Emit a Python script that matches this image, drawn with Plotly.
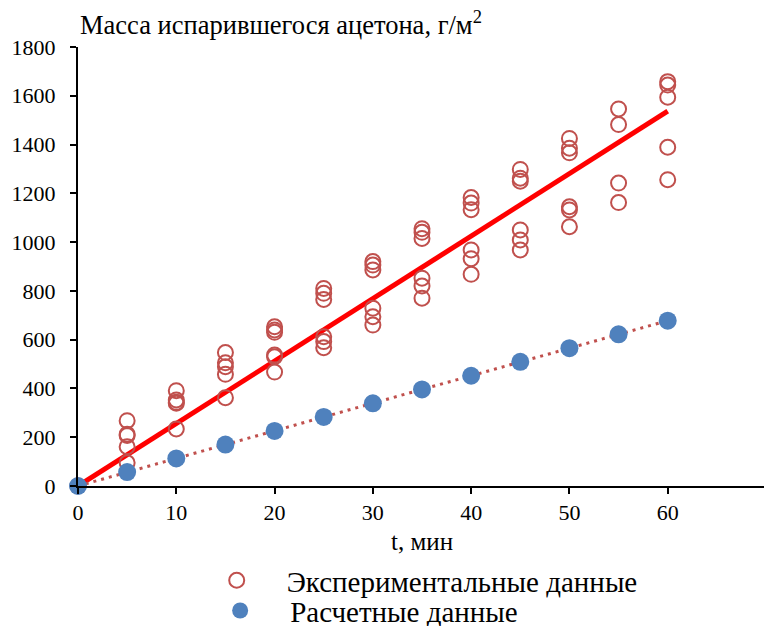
import plotly.graph_objects as go

# Experimental data: time (min) and evaporated mass (g/m2)
exp_t = ([0] +
         [5] * 5 + [10] * 5 + [15] * 5 + [20] * 6 + [25] * 6 + [30] * 6 +
         [35] * 6 + [40] * 6 + [45] * 6 + [50] * 6 + [55] * 4 + [60] * 5)
exp_m = ([0] +
         [268, 212, 207, 161, 95] +
         [391, 353, 343, 339, 234] +
         [547, 505, 489, 458, 362] +
         [653, 640, 630, 537, 530, 467] +
         [810, 790, 765, 612, 592, 567] +
         [920, 906, 886, 729, 694, 660] +
         [1055, 1040, 1015, 852, 820, 770] +
         [1183, 1160, 1133, 968, 932, 868] +
         [1298, 1262, 1250, 1050, 1009, 968] +
         [1425, 1385, 1366, 1145, 1132, 1063] +
         [1546, 1482, 1242, 1162] +
         [1658, 1644, 1594, 1389, 1256])

# Calculated data
calc_t = [0, 5, 10, 15, 20, 25, 30, 35, 40, 45, 50, 55, 60]
calc_m = [0, 57, 113, 170, 226, 283, 339, 396, 452, 509, 565, 622, 678]

# Trend line for experimental data
trend_t = [0, 60]
trend_m = [0, 1537]

x_ticks = [0, 10, 20, 30, 40, 50, 60, 70]
y_ticks = [0, 200, 400, 600, 800, 1000, 1200, 1400, 1600, 1800]

FONT = "Liberation Serif"

fig = go.Figure()

fig.add_trace(go.Scatter(
    x=trend_t, y=trend_m, mode="lines",
    line=dict(color="#FF0000", width=5),
    showlegend=False, hoverinfo="skip", cliponaxis=False))

fig.add_trace(go.Scatter(
    x=calc_t, y=calc_m, mode="lines",
    line=dict(color="#C0504D", width=3, dash="3px,5px"),
    showlegend=False, hoverinfo="skip", cliponaxis=False))

fig.add_trace(go.Scatter(
    x=exp_t, y=exp_m, mode="markers",
    name="Экспериментальные данные", legend="legend",
    marker=dict(symbol="circle-open", size=15, color="#C0504D",
                line=dict(width=2, color="#C0504D")),
    cliponaxis=False))

fig.add_trace(go.Scatter(
    x=calc_t, y=calc_m, mode="markers",
    name="Расчетные данные", legend="legend2",
    marker=dict(symbol="circle", size=18, color="#4F81BD"),
    cliponaxis=False))

legend_common = dict(xanchor="left", yanchor="middle", orientation="v",
                     itemwidth=90, bgcolor="rgba(0,0,0,0)",
                     font=dict(family=FONT, size=29, color="black"))

fig.update_layout(
    width=764, height=618,
    margin=dict(l=70, r=6, t=39, b=140, autoexpand=False),
    paper_bgcolor="white", plot_bgcolor="white",
    font=dict(family=FONT, size=22, color="black"),
    showlegend=True,
    legend=dict(x=0.158, y=-0.215, **legend_common),
    legend2=dict(x=0.163, y=-0.284, **legend_common),
    xaxis=dict(range=[0, 70], tickvals=x_ticks, showgrid=False,
               automargin=False,
               zeroline=False, showline=True, linecolor="black", linewidth=2,
               ticks="outside", ticklen=6, tickwidth=2, tickcolor="black",
               title=dict(text="t, мин", standoff=8,
                          font=dict(family=FONT, size=25)),
               tickfont=dict(family=FONT, size=22)),
    yaxis=dict(range=[0, 1800], tickvals=y_ticks, showgrid=False,
               automargin=False, ticklabelstandoff=10,
               zeroline=False, showline=True, linecolor="black", linewidth=2,
               ticks="outside", ticklen=6, tickwidth=2, tickcolor="black",
               tickfont=dict(family=FONT, size=22)),
    annotations=[dict(
        text="Масса испарившегося ацетона, г/м<sup>2</sup>",
        xref="paper", yref="paper", x=0.0, y=1.055,
        xanchor="left", yanchor="middle", showarrow=False,
        font=dict(family=FONT, size=26.5, color="black"))],
)

fig.write_html("out.html")
